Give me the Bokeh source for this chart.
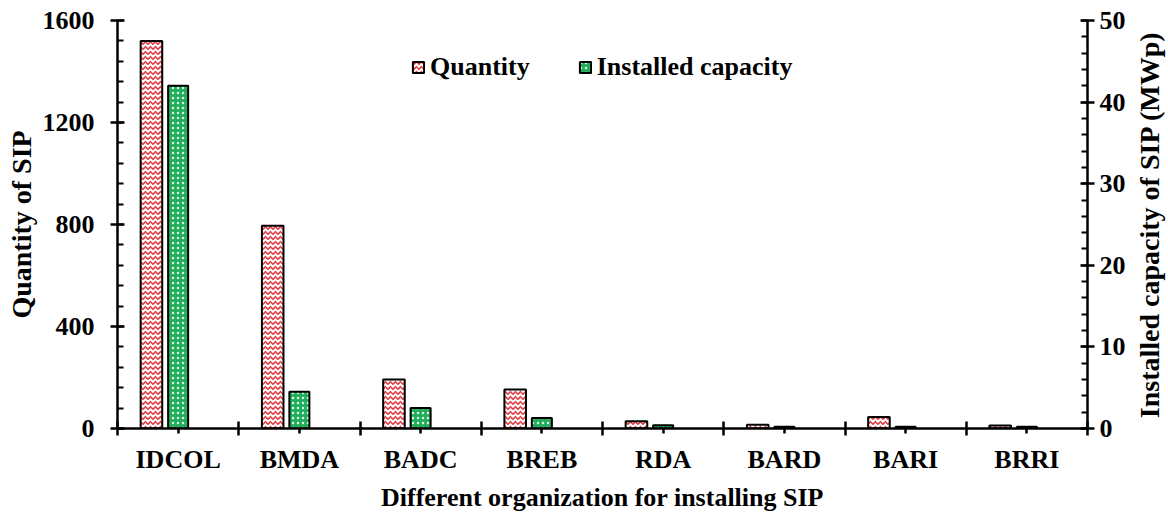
from bokeh.plotting import figure
from bokeh.layouts import row
from bokeh.models import Range1d, LinearAxis, FixedTicker, Legend, LegendItem
from bokeh.embed import file_html
from bokeh.resources import INLINE

categories = ["IDCOL", "BMDA", "BADC", "BREB", "RDA", "BARD", "BARI", "BRRI"]
quantity = [1520, 795, 192, 153, 28, 15, 45, 12]
capacity = [42.0, 4.5, 2.5, 1.3, 0.4, 0.2, 0.2, 0.2]
left_ticks = [0, 400, 800, 1200, 1600]
right_ticks = [0, 10, 20, 30, 40, 50]
right_title = "Installed capacity of SIP (MWp)"

FONT = "Liberation Serif"
FS = "26px"
FS_TITLE_V = "28px"
n = len(categories)
centers = [i + 0.5 for i in range(n)]
x_q = [c - 0.22 for c in centers]
x_c = centers

MAIN_W = 1128
p = figure(width=MAIN_W, height=514, output_backend="svg", toolbar_location=None,
           x_range=Range1d(0, n), y_range=Range1d(0, 1600),
           min_border_left=117, min_border_right=38, min_border_top=20, min_border_bottom=84)
p.extra_y_ranges = {"cap": Range1d(0, 50)}
p.grid.visible = False
p.outline_line_color = None
p.background_fill_color = "white"

rq = p.vbar(x=x_q, top=quantity, width=0.178, bottom=0, fill_color="white",
            hatch_pattern="horizontal_wave", hatch_color="#e04045", hatch_scale=5, hatch_weight=1.6,
            line_color="black", line_width=2)
rc = p.vbar(x=x_c, top=capacity, width=0.165, bottom=0, y_range_name="cap", fill_color="#22ad5c",
            hatch_pattern="dot", hatch_color="#d8f5e2", hatch_scale=5, hatch_weight=1,
            line_color="black", line_width=2)

def style(ax, title_fs=FS):
    ax.axis_line_width = 2.5
    ax.axis_line_color = "black"
    ax.major_tick_line_width = 2.5
    ax.minor_tick_line_width = 2
    ax.major_label_text_font = FONT
    ax.major_label_text_font_style = "bold"
    ax.major_label_text_font_size = FS
    ax.major_label_text_color = "black"
    ax.axis_label_text_font = FONT
    ax.axis_label_text_font_style = "bold"
    ax.axis_label_text_font_size = title_fs
    ax.axis_label_text_color = "black"

# x axis
xa = p.xaxis[0]
xa.ticker = FixedTicker(ticks=centers, minor_ticks=list(range(n + 1)))
xa.major_label_overrides = {c: lab for c, lab in zip(centers, categories)}
xa.axis_label = "Different organization for installing SIP"
style(xa)
xa.major_tick_in = 0
xa.major_tick_out = 5
xa.minor_tick_in = 7
xa.minor_tick_out = 7
xa.minor_tick_line_width = 2.5
xa.major_label_standoff = 9
xa.axis_label_standoff = 6

ya = p.yaxis[0]
ya.ticker = FixedTicker(ticks=left_ticks, minor_ticks=list(range(0, 1601, 80)))
ya.axis_label = "Quantity of SIP"
style(ya, FS_TITLE_V)
ya.major_tick_in = 7
ya.major_tick_out = 7
ya.minor_tick_in = 6
ya.minor_tick_out = 0
ya.major_label_standoff = 16
ya.axis_label_standoff = 3

ra = LinearAxis(y_range_name="cap", ticker=FixedTicker(ticks=right_ticks, minor_ticks=list(range(0, 51, 2))))
style(ra)
ra.major_tick_in = 7
ra.major_tick_out = 7
ra.minor_tick_in = 6
ra.minor_tick_out = 0
ra.major_label_standoff = 5
p.add_layout(ra, "right")

legend = Legend(items=[LegendItem(label="Quantity", renderers=[rq]),
                       LegendItem(label="Installed capacity", renderers=[rc])],
                orientation="horizontal", location=(294, 346))
legend.border_line_color = None
legend.background_fill_alpha = 0
legend.label_text_font = FONT
legend.label_text_font_style = "bold"
legend.label_text_font_size = FS
legend.label_text_color = "black"
legend.glyph_width = 14
legend.glyph_height = 14
legend.spacing = 48
legend.padding = 0
legend.margin = 0
legend.label_standoff = 5
p.add_layout(legend, "center")

# narrow companion figure that only carries the right-hand axis title (reads bottom-to-top)
side = figure(width=1168 - MAIN_W, height=514, output_backend="svg", toolbar_location=None,
              x_range=Range1d(0, 1), y_range=Range1d(0, 1),
              min_border_left=36, min_border_right=0, min_border_top=20, min_border_bottom=84)
side.xaxis.visible = False
side.grid.visible = False
side.outline_line_color = None
sa = side.yaxis[0]
sa.ticker = FixedTicker(ticks=[])
sa.axis_line_color = None
sa.major_tick_line_color = None
sa.minor_tick_line_color = None
sa.major_label_text_font_size = "0px"
sa.axis_label = right_title
sa.axis_label_standoff = 0
sa.axis_label_text_font = FONT
sa.axis_label_text_font_style = "bold"
sa.axis_label_text_font_size = FS_TITLE_V
sa.axis_label_text_color = "black"

layout = row(p, side, spacing=0)
open("out.html", "w").write(file_html(layout, INLINE))
